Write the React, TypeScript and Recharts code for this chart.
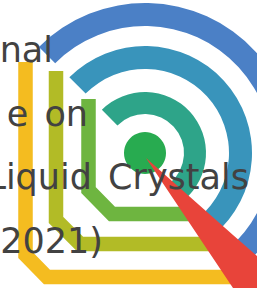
import { PieChart, Pie, LineChart, Line, AreaChart, Area, XAxis, YAxis } from "recharts";

const W = 257;
const H = 288;

// concentric arcs, outermost first
const ringNames = ["outer", "middle", "inner"];
const ringValues = [1, 1, 1];
const arcSpan = [135, -50];
const coreValues = [1];

// centre lines of the three L-shaped bands (x, y counted from the top-left)
const yellowX = [25.5, 25.5, 47, 240];
const yellowY = [62, 255, 277, 277];
const oliveX = [56, 56, 80, 215];
const oliveY = [71, 220, 244, 244];
const greenX = [88.5, 88.5, 112, 190];
const greenY = [99, 190, 214, 214];

// red pointer wedge: upper and lower edge at three x positions
const pointerX = [146, 233, 257];
const pointerTop = [158, 235, 256];
const pointerBottom = [158, 288, 288];

// visible text lines
const textLines = ["nal", "e on", "Liquid Crystals", "2021)"];

const ringColors = ["#4b80c6", "#3994bb", "#2ea489"];
const ringRadii = [
  [127, 150],
  [84, 107],
  [39, 61],
];
const textRight = [53, 88, 249, 103];
const textBase = [62, 126, 189, 253];

const toPoints = (xs: number[], ys: number[]) => xs.map((x, i) => ({ x, y: ys[i] }));

const layer: React.CSSProperties = { position: "absolute", left: 0, top: 0 };

const Axes = () => (
  <>
    <XAxis type="number" dataKey="x" domain={[0, W]} hide allowDataOverflow />
    <YAxis type="number" domain={[0, H]} reversed hide allowDataOverflow />
  </>
);

export default function App() {
  const bands = [
    { data: toPoints(yellowX, yellowY), color: "#f4bc20" },
    { data: toPoints(oliveX, oliveY), color: "#b2bb26" },
    { data: toPoints(greenX, greenY), color: "#6eb540" },
  ];
  const pointer = pointerX.map((x, i) => ({ x, range: [pointerTop[i], pointerBottom[i]] }));

  return (
    <div style={{ position: "fixed", left: 0, top: 0, width: W, height: H, overflow: "hidden", background: "#fff" }}>
      <div style={layer}>
        <PieChart width={W} height={H} margin={{ top: 0, right: 0, bottom: 0, left: 0 }}>
          {ringNames.map((name, i) => (
            <Pie
              key={name}
              data={[{ name, value: ringValues[i] }]}
              dataKey="value"
              cx={145}
              cy={153}
              startAngle={arcSpan[0]}
              endAngle={arcSpan[1]}
              innerRadius={ringRadii[i][0]}
              outerRadius={ringRadii[i][1]}
              fill={ringColors[i]}
              stroke="none"
              isAnimationActive={false}
            />
          ))}
          <Pie
            data={coreValues.map((value) => ({ name: "core", value }))}
            dataKey="value"
            cx={145}
            cy={153}
            innerRadius={0}
            outerRadius={21}
            fill="#28ab50"
            stroke="none"
            isAnimationActive={false}
          />
        </PieChart>
      </div>
      <div style={layer}>
        <LineChart width={W} height={H} margin={{ top: 0, right: 0, bottom: 0, left: 0 }}>
          {Axes()}
          {bands.map((b, i) => (
            <Line
              key={i}
              data={b.data}
              dataKey="y"
              type="linear"
              stroke={b.color}
              strokeWidth={14.5}
              strokeLinecap="butt"
              strokeLinejoin="miter"
              dot={false}
              activeDot={false}
              isAnimationActive={false}
            />
          ))}
        </LineChart>
      </div>
      <div style={layer}>
        <AreaChart width={W} height={H} data={pointer} margin={{ top: 0, right: 0, bottom: 0, left: 0 }}>
          {Axes()}
          <Area
            dataKey="range"
            type="linear"
            fill="#e8443a"
            fillOpacity={1}
            stroke="none"
            activeDot={false}
            isAnimationActive={false}
          />
        </AreaChart>
      </div>
      <svg style={layer} width={W} height={H}>
        {textLines.map((t, i) => (
          <text
            key={t}
            x={textRight[i]}
            y={textBase[i]}
            textAnchor="end"
            fontFamily="DejaVu Sans"
            fontSize={35}
            wordSpacing={5}
            fill="#424242"
          >
            {t}
          </text>
        ))}
      </svg>
    </div>
  );
}
